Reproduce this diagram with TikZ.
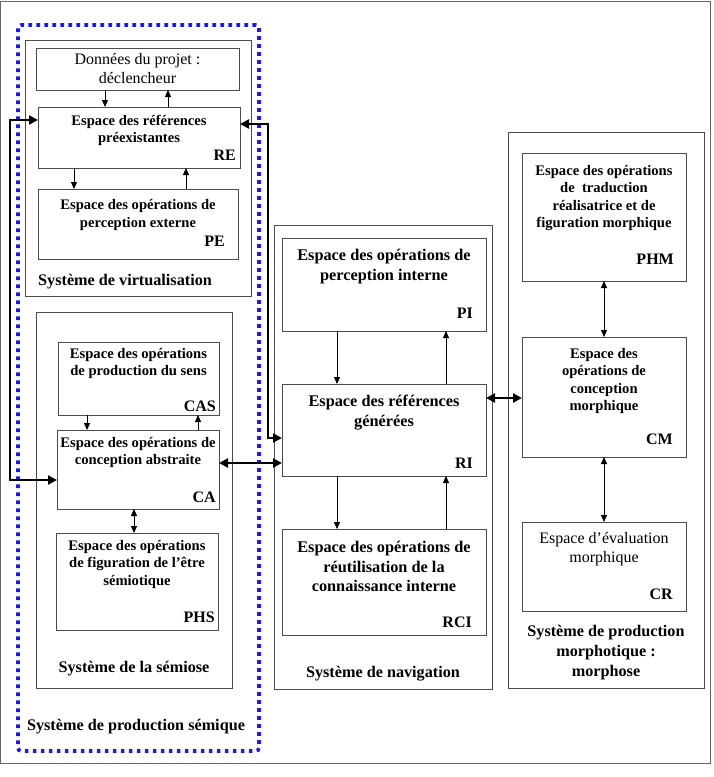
\documentclass[tikz,border=0pt]{standalone}
\usepackage{fontspec}
\setmainfont{Liberation Serif}
\usetikzlibrary{arrows.meta,calc}
\definecolor{dotblue}{RGB}{25,25,235}
\newcommand\bx[5]{\node[boxst,minimum width={#4-#2},minimum height={#5-#3},anchor=north west] (#1) at (#2,#3) {};}
\newcommand\myvc[4]{\draw[tarrow,#1] ($(#2.south west)+(#4,0)$) -- ($(#2.south west |- #3.north)+(#4,0)$);}
\tikzset{
 boxst/.style={draw=black!70,line width=1pt,inner sep=0pt,outer sep=0pt},
 tarrow/.style={line width=0.9pt,black,>={Triangle[length=7pt,width=6pt]}},
 tk/.style={line width=2.6pt,black,>={Triangle[length=9pt,width=9pt]}},
 sm/.style={font=\fontsize{14.6}{17.5}\selectfont\bfseries,align=center,inner sep=0pt,anchor=north},
 nv/.style={font=\fontsize{16.3}{19.5}\selectfont\bfseries,align=center,inner sep=0pt,anchor=north},
 rg/.style={font=\fontsize{16}{19}\selectfont,align=center,inner sep=0pt,anchor=north},
 ab/.style={font=\fontsize{16}{19}\selectfont\bfseries,inner sep=0pt,anchor=base east},
 sy/.style={font=\fontsize{16.2}{20}\selectfont\bfseries,inner sep=0pt,align=center}
}
\begin{document}
\begin{tikzpicture}[x=1pt,y=-1pt]
\useasboundingbox (0,0) rectangle (713,777);
\node[draw=black!60,line width=1pt,inner sep=0pt,outer sep=0pt,minimum width=709.5,minimum height=762,anchor=north west] (frame) at (0.5,1) {};
\node[draw=dotblue,line width=3.6pt,dash pattern=on 3.6pt off 4.4pt,rounded corners=3pt,inner sep=0pt,outer sep=0pt,minimum width=241,minimum height=726,anchor=north west] (blue) at (18,25) {};
% left column
\bx{virt}{25}{40}{251}{296}
\bx{don}{36}{48}{239}{90}
\bx{re}{38}{107}{240}{168}
\bx{pe}{38}{189}{238}{259}
\bx{sem}{36}{312}{232}{688}
\bx{cas}{58}{342}{219}{415}
\bx{ca}{57}{430}{219}{509}
\bx{phs}{56}{533}{218}{630}
% navigation
\bx{nav}{274}{225}{492}{689}
\bx{pi}{282}{238}{486}{331}
\bx{ri}{282}{384}{486}{476}
\bx{rci}{282}{529}{486}{635}
% morphose
\bx{morph}{508}{132}{704}{688}
\bx{phm}{522}{153}{686}{281}
\bx{cm}{522}{337}{686}{457}
\bx{cr}{522}{522}{686}{611}
% texts
\node[rg] (t-don) at (137.5,53) {Données du projet :\\déclencheur};
\node[sm] (t-re) at (139,115) {Espace des références\\préexistantes};
\node[ab] (a-re) at (236,160) {RE};
\node[sm] (t-pe) at (138,199.5) {Espace des opérations de\\perception externe};
\node[ab] (a-pe) at (225,246) {PE};
\node[sy,anchor=base west] (s-virt) at (38,285) {Système de virtualisation};
\node[sm] (t-cas) at (138.5,348) {Espace des opérations\\de production du sens};
\node[ab] (a-cas) at (216,411) {CAS};
\node[sm] (t-ca) at (138,437) {Espace des opérations de\\conception abstraite};
\node[ab] (a-ca) at (216,502) {CA};
\node[sm] (t-phs) at (137,540) {Espace des opérations\\de figuration de l’être\\sémiotique};
\node[ab] (a-phs) at (215,622) {PHS};
\node[sy,anchor=base] (s-sem) at (134,672) {Système de la sémiose};
\node[sy,anchor=base] (s-blue) at (136,730) {Système de production sémique};
\node[nv] (t-pi) at (384,249) {Espace des opérations de\\perception interne};
\node[ab] (a-pi) at (473,318) {PI};
\node[nv] (t-ri) at (384,395) {Espace des références\\générées};
\node[ab] (a-ri) at (473,468) {RI};
\node[nv] (t-rci) at (384,541) {Espace des opérations de\\réutilisation de la\\connaissance interne};
\node[ab] (a-rci) at (472,627) {RCI};
\node[sy,anchor=base] (s-nav) at (383,677) {Système de navigation};
\node[sm] (t-phm) at (604,165) {Espace des opérations\\de~~traduction\\réalisatrice et de\\figuration morphique};
\node[ab] (a-phm) at (674,264) {PHM};
\node[sm] (t-cm) at (604,348) {Espace des\\opérations de\\conception\\morphique};
\node[ab] (a-cm) at (673,444) {CM};
\node[rg] (t-cr) at (604,532) {Espace d’évaluation\\morphique};
\node[ab] (a-cr) at (673,599) {CR};
\node[sy,anchor=north] (s-morph) at (606,625.5) {Système de production\\morphotique :\\morphose};
% thin connectors
\myvc{->}{don}{re}{69}
\myvc{<-}{don}{re}{132}
\myvc{->}{re}{pe}{36}
\myvc{<-}{re}{pe}{148}
\myvc{->}{cas}{ca}{29}
\myvc{<-}{cas}{ca}{140}
\myvc{<->}{ca}{phs}{77}
\myvc{->}{pi}{ri}{55}
\myvc{<-}{pi}{ri}{164}
\myvc{->}{ri}{rci}{55}
\myvc{<-}{ri}{rci}{164}
\myvc{<->}{phm}{cm}{82}
\myvc{<->}{cm}{cr}{82}
% thick connectors
\coordinate (l1) at ($(re.north west)+(0,13)$);
\coordinate (l2) at ($(ca.north west)+(0,50)$);
\draw[tk,<->] (l1) -- ++(-28,0) |- (l2);
\coordinate (r1) at ($(re.north east)+(0,17)$);
\coordinate (r2) at ($(ri.north west)+(0,54)$);
\draw[tk,<->] (r1) -- ++(28,0) |- (r2);
\coordinate (c1) at ($(ca.north east)+(0,33)$);
\draw[tk,<->] (c1) -- (c1 -| ri.west);
\coordinate (c2) at ($(ri.north east)+(0,14)$);
\draw[tk,<->] (c2) -- (c2 -| cm.west);
\end{tikzpicture}
\end{document}
